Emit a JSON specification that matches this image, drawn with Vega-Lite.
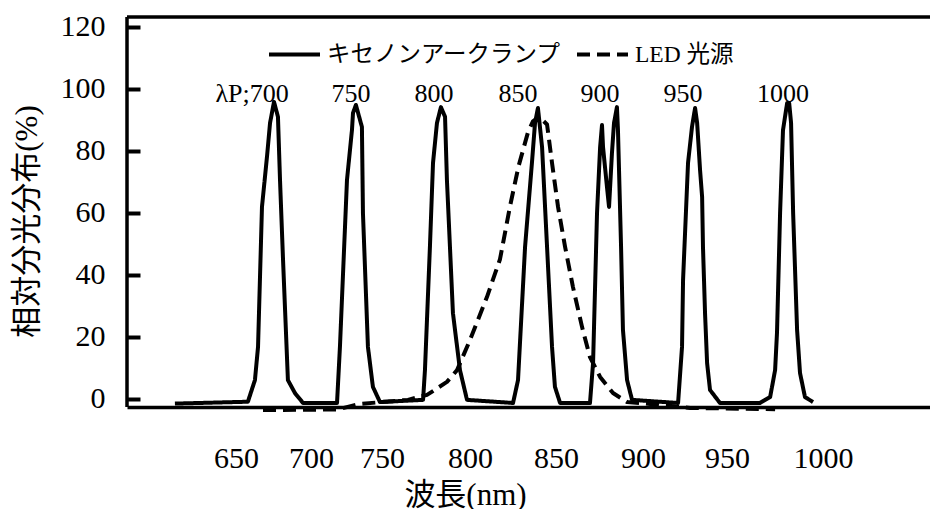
{
  "$schema": "https://vega.github.io/schema/vega-lite/v6.json",
  "width": 803,
  "height": 390,
  "autosize": {"type": "none"},
  "padding": {"left": 127, "top": 17, "right": 0, "bottom": 102},
  "background": "white",
  "config": {
    "view": {"stroke": null},
    "font": "Liberation Serif, Noto Sans CJK JP",
    "axis": {"grid": false, "labelColor": "black", "titleColor": "black", "domainColor": "black", "labelFont": "Liberation Serif, Noto Sans CJK JP", "titleFont": "Liberation Serif, Noto Sans CJK JP", "titleFontWeight": "normal", "labelFontWeight": "normal"}
  },
  "datasets": {
    "spectra": [
      {"series": "キセノンアークランプ", "part": "a", "nm": 642.9, "v": -1.6},
      {"series": "キセノンアークランプ", "part": "a", "nm": 685.4, "v": -1.0},
      {"series": "キセノンアークランプ", "part": "a", "nm": 689.5, "v": 6.0},
      {"series": "キセノンアークランプ", "part": "a", "nm": 691.3, "v": 16.7},
      {"series": "キセノンアークランプ", "part": "a", "nm": 693.6, "v": 61.9},
      {"series": "キセノンアークランプ", "part": "a", "nm": 696.5, "v": 78.0},
      {"series": "キセノンアークランプ", "part": "a", "nm": 698.3, "v": 89.0},
      {"series": "キセノンアークランプ", "part": "a", "nm": 700.6, "v": 95.8},
      {"series": "キセノンアークランプ", "part": "a", "nm": 702.9, "v": 91.0},
      {"series": "キセノンアークランプ", "part": "a", "nm": 704.1, "v": 70.6},
      {"series": "キセノンアークランプ", "part": "a", "nm": 705.8, "v": 45.7},
      {"series": "キセノンアークランプ", "part": "a", "nm": 708.7, "v": 6.0},
      {"series": "キセノンアークランプ", "part": "a", "nm": 712.8, "v": 1.8},
      {"series": "キセノンアークランプ", "part": "a", "nm": 717.5, "v": -1.4},
      {"series": "キセノンアークランプ", "part": "a", "nm": 737.3, "v": -1.4},
      {"series": "キセノンアークランプ", "part": "a", "nm": 739.0, "v": 16.7},
      {"series": "キセノンアークランプ", "part": "a", "nm": 743.1, "v": 70.6},
      {"series": "キセノンアークランプ", "part": "a", "nm": 746.0, "v": 86.7},
      {"series": "キセノンアークランプ", "part": "a", "nm": 746.6, "v": 92.2},
      {"series": "キセノンアークランプ", "part": "a", "nm": 748.3, "v": 94.8},
      {"series": "キセノンアークランプ", "part": "a", "nm": 751.8, "v": 87.7},
      {"series": "キセノンアークランプ", "part": "a", "nm": 752.4, "v": 59.9},
      {"series": "キセノンアークランプ", "part": "a", "nm": 755.3, "v": 16.7},
      {"series": "キセノンアークランプ", "part": "a", "nm": 758.2, "v": 3.8},
      {"series": "キセノンアークランプ", "part": "a", "nm": 762.3, "v": -1.1},
      {"series": "キセノンアークランプ", "part": "a", "nm": 787.4, "v": -0.4},
      {"series": "キセノンアークランプ", "part": "a", "nm": 788.5, "v": 9.2},
      {"series": "キセノンアークランプ", "part": "a", "nm": 791.4, "v": 49.0},
      {"series": "キセノンアークランプ", "part": "a", "nm": 793.2, "v": 76.1},
      {"series": "キセノンアークランプ", "part": "a", "nm": 795.5, "v": 89.0},
      {"series": "キセノンアークランプ", "part": "a", "nm": 797.8, "v": 94.1},
      {"series": "キセノンアークランプ", "part": "a", "nm": 800.2, "v": 91.0},
      {"series": "キセノンアークランプ", "part": "a", "nm": 801.3, "v": 70.6},
      {"series": "キセノンアークランプ", "part": "a", "nm": 804.8, "v": 27.6},
      {"series": "キセノンアークランプ", "part": "a", "nm": 808.9, "v": 9.2},
      {"series": "キセノンアークランプ", "part": "a", "nm": 813.0, "v": -0.4},
      {"series": "キセノンアークランプ", "part": "a", "nm": 839.8, "v": -1.4},
      {"series": "キセノンアークランプ", "part": "a", "nm": 842.7, "v": 6.0},
      {"series": "キセノンアークランプ", "part": "a", "nm": 846.8, "v": 49.0},
      {"series": "キセノンアークランプ", "part": "a", "nm": 850.8, "v": 76.1},
      {"series": "キセノンアークランプ", "part": "a", "nm": 852.6, "v": 89.0},
      {"series": "キセノンアークランプ", "part": "a", "nm": 854.3, "v": 93.8},
      {"series": "キセノンアークランプ", "part": "a", "nm": 856.7, "v": 81.2},
      {"series": "キセノンアークランプ", "part": "a", "nm": 859.6, "v": 49.0},
      {"series": "キセノンアークランプ", "part": "a", "nm": 862.5, "v": 16.7},
      {"series": "キセノンアークランプ", "part": "a", "nm": 864.2, "v": 3.8},
      {"series": "キセノンアークランプ", "part": "a", "nm": 867.2, "v": -1.4},
      {"series": "キセノンアークランプ", "part": "a", "nm": 884.6, "v": -1.4},
      {"series": "キセノンアークランプ", "part": "a", "nm": 886.4, "v": 11.5},
      {"series": "キセノンアークランプ", "part": "a", "nm": 888.7, "v": 59.9},
      {"series": "キセノンアークランプ", "part": "a", "nm": 890.5, "v": 81.2},
      {"series": "キセノンアークランプ", "part": "a", "nm": 891.6, "v": 88.3},
      {"series": "キセノンアークランプ", "part": "a", "nm": 892.2, "v": 81.2},
      {"series": "キセノンアークランプ", "part": "a", "nm": 894.5, "v": 68.3},
      {"series": "キセノンアークランプ", "part": "a", "nm": 895.7, "v": 61.9},
      {"series": "キセノンアークランプ", "part": "a", "nm": 897.4, "v": 79.3},
      {"series": "キセノンアークランプ", "part": "a", "nm": 898.6, "v": 89.0},
      {"series": "キセノンアークランプ", "part": "a", "nm": 900.3, "v": 94.1},
      {"series": "キセノンアークランプ", "part": "a", "nm": 900.9, "v": 86.7},
      {"series": "キセノンアークランプ", "part": "a", "nm": 902.7, "v": 49.0},
      {"series": "キセノンアークランプ", "part": "a", "nm": 903.8, "v": 22.2},
      {"series": "キセノンアークランプ", "part": "a", "nm": 906.2, "v": 6.0},
      {"series": "キセノンアークランプ", "part": "a", "nm": 909.1, "v": -0.4},
      {"series": "キセノンアークランプ", "part": "a", "nm": 935.9, "v": -1.4},
      {"series": "キセノンアークランプ", "part": "a", "nm": 938.2, "v": 16.7},
      {"series": "キセノンアークランプ", "part": "a", "nm": 938.8, "v": 38.3},
      {"series": "キセノンアークランプ", "part": "a", "nm": 941.7, "v": 76.1},
      {"series": "キセノンアークランプ", "part": "a", "nm": 944.0, "v": 87.7},
      {"series": "キセノンアークランプ", "part": "a", "nm": 945.8, "v": 93.8},
      {"series": "キセノンアークランプ", "part": "a", "nm": 947.0, "v": 89.0},
      {"series": "キセノンアークランプ", "part": "a", "nm": 948.7, "v": 73.8},
      {"series": "キセノンアークランプ", "part": "a", "nm": 949.9, "v": 65.1},
      {"series": "キセノンアークランプ", "part": "a", "nm": 950.4, "v": 49.0},
      {"series": "キセノンアークランプ", "part": "a", "nm": 951.6, "v": 27.6},
      {"series": "キセノンアークランプ", "part": "a", "nm": 952.8, "v": 11.5},
      {"series": "キセノンアークランプ", "part": "a", "nm": 954.5, "v": 2.8},
      {"series": "キセノンアークランプ", "part": "a", "nm": 960.3, "v": -1.4},
      {"series": "キセノンアークランプ", "part": "a", "nm": 983.6, "v": -1.4},
      {"series": "キセノンアークランプ", "part": "a", "nm": 989.5, "v": 0.5},
      {"series": "キセノンアークランプ", "part": "a", "nm": 992.4, "v": 9.2},
      {"series": "キセノンアークランプ", "part": "a", "nm": 993.5, "v": 21.2},
      {"series": "キセノンアークランプ", "part": "a", "nm": 995.3, "v": 59.9},
      {"series": "キセノンアークランプ", "part": "a", "nm": 997.0, "v": 86.7},
      {"series": "キセノンアークランプ", "part": "a", "nm": 999.4, "v": 95.4},
      {"series": "キセノンアークランプ", "part": "a", "nm": 1000.6, "v": 95.4},
      {"series": "キセノンアークランプ", "part": "a", "nm": 1001.7, "v": 89.0},
      {"series": "キセノンアークランプ", "part": "a", "nm": 1002.9, "v": 59.9},
      {"series": "キセノンアークランプ", "part": "a", "nm": 1005.2, "v": 22.2},
      {"series": "キセノンアークランプ", "part": "a", "nm": 1006.9, "v": 8.3},
      {"series": "キセノンアークランプ", "part": "a", "nm": 1009.8, "v": 0.5},
      {"series": "キセノンアークランプ", "part": "a", "nm": 1014.5, "v": -1.1},
      {"series": "LED 光源", "part": "b", "nm": 694.2, "v": -3.7},
      {"series": "LED 光源", "part": "b", "nm": 737.3, "v": -3.5},
      {"series": "LED 光源", "part": "b", "nm": 750.7, "v": -1.7},
      {"series": "LED 光源", "part": "b", "nm": 778.6, "v": -0.4},
      {"series": "LED 光源", "part": "b", "nm": 789.7, "v": 1.2},
      {"series": "LED 光源", "part": "b", "nm": 801.3, "v": 5.4},
      {"series": "LED 光源", "part": "b", "nm": 807.2, "v": 9.2},
      {"series": "LED 光源", "part": "b", "nm": 814.7, "v": 18.9},
      {"series": "LED 光源", "part": "b", "nm": 824.6, "v": 32.8},
      {"series": "LED 光源", "part": "b", "nm": 832.2, "v": 45.0},
      {"series": "LED 光源", "part": "b", "nm": 838.0, "v": 62.0},
      {"series": "LED 光源", "part": "b", "nm": 843.0, "v": 75.0},
      {"series": "LED 光源", "part": "b", "nm": 848.5, "v": 86.0},
      {"series": "LED 光源", "part": "b", "nm": 851.4, "v": 89.5},
      {"series": "LED 光源", "part": "b", "nm": 855.0, "v": 91.0},
      {"series": "LED 光源", "part": "b", "nm": 859.6, "v": 88.5},
      {"series": "LED 光源", "part": "b", "nm": 862.5, "v": 76.1},
      {"series": "LED 光源", "part": "b", "nm": 866.0, "v": 61.9},
      {"series": "LED 光源", "part": "b", "nm": 870.1, "v": 49.0},
      {"series": "LED 光源", "part": "b", "nm": 874.7, "v": 36.0},
      {"series": "LED 光源", "part": "b", "nm": 880.0, "v": 23.1},
      {"series": "LED 光源", "part": "b", "nm": 884.6, "v": 13.4},
      {"series": "LED 光源", "part": "b", "nm": 890.5, "v": 7.0},
      {"series": "LED 光源", "part": "b", "nm": 898.0, "v": 1.8},
      {"series": "LED 光源", "part": "b", "nm": 906.2, "v": -1.1},
      {"series": "LED 光源", "part": "b", "nm": 919.6, "v": -1.7},
      {"series": "LED 光源", "part": "b", "nm": 942.9, "v": -3.0},
      {"series": "LED 光源", "part": "b", "nm": 992.4, "v": -3.4}
    ],
    "peaks": [
      {"nm": 687.8, "label": "λP;700"},
      {"nm": 745.4, "label": "750"},
      {"nm": 793.8, "label": "800"},
      {"nm": 842.7, "label": "850"},
      {"nm": 890.4, "label": "900"},
      {"nm": 938.8, "label": "950"},
      {"nm": 997.0, "label": "1000"}
    ],
    "one": [{}]
  },
  "layer": [
    {
      "data": {"name": "spectra"},
      "mark": {"type": "line", "strokeWidth": 4, "color": "black", "strokeJoin": "round", "clip": false},
      "encoding": {
        "x": {
          "field": "nm", "type": "quantitative",
          "scale": {"domain": [615, 1082.6], "nice": false, "zero": false},
          "axis": {
            "values": [678.4, 722.1, 763.5, 814.7, 864.8, 915.5, 964.4, 1020.3],
            "labelExpr": "datum.value < 700 ? '650' : datum.value < 740 ? '700' : datum.value < 790 ? '750' : datum.value < 840 ? '800' : datum.value < 890 ? '850' : datum.value < 940 ? '900' : datum.value < 990 ? '950' : '1000'",
            "ticks": false,
            "labelFontSize": 30,
            "labelFontWeight": "normal",
            "labelPadding": 36,
            "labelBaseline": "top",
            "labelFlush": false,
            "labelOverlap": false,
            "domain": true,
            "domainWidth": 3.5,
            "domainColor": "black",
            "title": "波長(nm)",
            "titleFontSize": 31,
            "titleFontWeight": "normal",
            "titleX": 338,
            "titleY": 88,
            "titleAlign": "center",
            "titleBaseline": "middle"
          }
        },
        "y": {
          "field": "v", "type": "quantitative",
          "scale": {"domain": [-2.7, 123.2], "nice": false, "zero": false},
          "axis": {
            "values": [0, 20, 40, 60, 80, 100, 120],
            "labelFontSize": 30,
            "labelFontWeight": "normal",
            "labelPadding": 22,
            "offset": -13,
            "ticks": true,
            "tickSize": 13,
            "tickWidth": 4,
            "tickColor": "black",
            "domain": false,
            "title": "相対分光分布(%)",
            "titleFontSize": 31,
            "titleFontWeight": "normal",
            "titleX": -113,
            "titleY": 204,
            "titleAngle": -90,
            "titleAlign": "center",
            "titleBaseline": "middle"
          }
        },
        "detail": {"field": "part"},
        "strokeDash": {
          "field": "series", "type": "nominal",
          "scale": {"domain": ["キセノンアークランプ", "LED 光源"], "range": [[1, 0], [13, 7]]},
          "legend": {
            "title": null,
            "orient": "none",
            "legendX": 140,
            "legendY": 10,
            "direction": "horizontal",
            "symbolType": "stroke",
            "symbolSize": 2601,
            "symbolStrokeWidth": 4,
            "symbolStrokeColor": "black",
            "labelFont": "Liberation Serif, Noto Sans CJK JP",
            "labelFontSize": 23.5,
            "labelColor": "black",
            "labelOffset": 5,
            "columnPadding": 8,
            "labelLimit": 400,
            "encode": {"symbols": {"update": {"strokeDash": {"signal": "datum.value === 'LED 光源' ? [9, 4] : [1, 0]"}}}}
          }
        }
      }
    },
    {
      "data": {"name": "one"},
      "mark": {"type": "rule", "strokeWidth": 3.5, "color": "black"},
      "encoding": {"x": {"datum": 615, "type": "quantitative"}}
    },
    {
      "data": {"name": "one"},
      "mark": {"type": "rule", "strokeWidth": 3.5, "color": "black"},
      "encoding": {"y": {"datum": 123.2, "type": "quantitative"}}
    },
    {
      "data": {"name": "peaks"},
      "mark": {"type": "text", "fontSize": 26, "font": "Liberation Serif", "color": "black", "align": "center", "baseline": "alphabetic"},
      "encoding": {
        "x": {"field": "nm", "type": "quantitative"},
        "y": {"datum": 95.8, "type": "quantitative"},
        "text": {"field": "label"}
      }
    }
  ]
}
